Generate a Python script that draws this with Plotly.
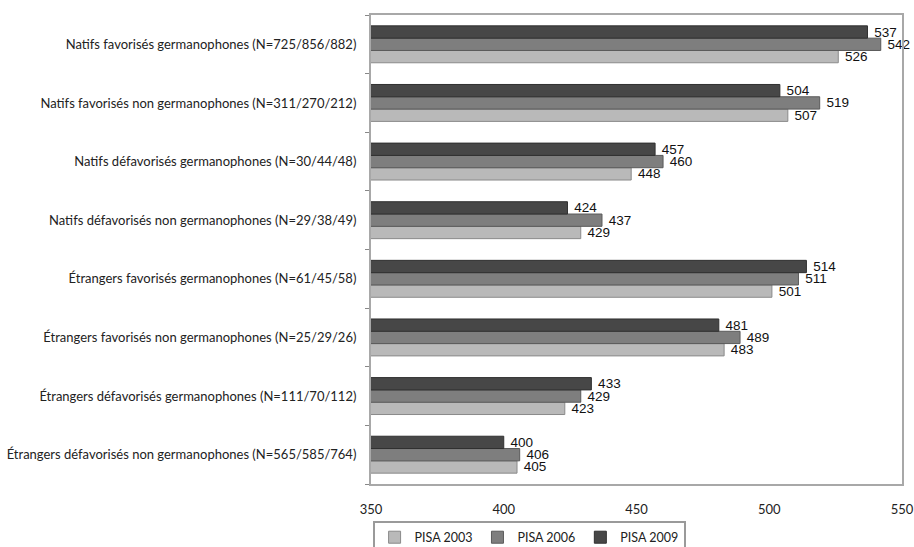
import plotly.graph_objects as go

# Groups of students (sample sizes for 2003/2006/2009)
categories = [
    "Natifs favorisés germanophones (N=725/856/882)",
    "Natifs favorisés non germanophones (N=311/270/212)",
    "Natifs défavorisés germanophones (N=30/44/48)",
    "Natifs défavorisés non germanophones (N=29/38/49)",
    "Étrangers favorisés germanophones (N=61/45/58)",
    "Étrangers favorisés non germanophones (N=25/29/26)",
    "Étrangers défavorisés germanophones (N=111/70/112)",
    "Étrangers défavorisés non germanophones (N=565/585/764)",
]

# Mean scores per PISA wave
pisa_2003 = [526, 507, 448, 429, 501, 483, 423, 405]
pisa_2006 = [542, 519, 460, 437, 511, 489, 429, 406]
pisa_2009 = [537, 504, 457, 424, 514, 481, 433, 400]

series_names = ["PISA 2003", "PISA 2006", "PISA 2009"]
x_ticks = [350, 400, 450, 500, 550]

series = [pisa_2003, pisa_2006, pisa_2009]
colors = ["#b9b9b9", "#7e7e7e", "#474747"]
outline = ["#8a8a8a", "#5a5a5a", "#303030"]

fig = go.Figure()
for name, vals, col, lc in zip(series_names, series, colors, outline):
    fig.add_trace(go.Bar(
        y=categories,
        x=vals,
        name=name,
        orientation="h",
        marker=dict(color=col, line=dict(color=lc, width=1)),
        text=[f" {v}" for v in vals],
        textposition="outside",
        constraintext="none",
        cliponaxis=False,
        textfont=dict(family="Liberation Sans Narrow, Liberation Sans, sans-serif",
                      size=13.5, color="#111111"),
    ))

fig.update_layout(
    width=914,
    height=547,
    margin=dict(l=371, r=12, t=15, b=63, autoexpand=False),
    barmode="group",
    bargap=0.37,
    bargroupgap=0,
    paper_bgcolor="white",
    plot_bgcolor="white",
    font=dict(family="Lato, sans-serif", size=13, color="#222222"),
    showlegend=True,
    legend=dict(
        orientation="h",
        x=0.003, xanchor="left",
        y=-0.078, yanchor="top",
        bordercolor="#9a9a9a",
        borderwidth=2,
        itemwidth=30,
        traceorder="normal",
        font=dict(family="Lato, sans-serif", size=12.5, color="#222222"),
        tracegroupgap=0,
    ),
)

fig.update_xaxes(
    range=[350, 550],
    tickvals=x_ticks,
    showgrid=False,
    zeroline=False,
    showline=True,
    linecolor="#a8a8a8",
    linewidth=2,
    mirror=True,
    ticks="outside",
    ticklen=0,
    ticklabelstandoff=12,
    tickfont=dict(family="Lato, sans-serif", size=13, color="#222222"),
)

fig.update_yaxes(
    categoryorder="array",
    categoryarray=categories[::-1],
    showgrid=False,
    showline=True,
    linecolor="#a8a8a8",
    linewidth=2,
    mirror=True,
    ticks="outside",
    tickson="boundaries",
    ticklen=4,
    tickcolor="#888888",
    ticklabelstandoff=10,
    tickfont=dict(family="Lato, sans-serif", size=13, color="#222222"),
)

fig.write_html("out.html")
